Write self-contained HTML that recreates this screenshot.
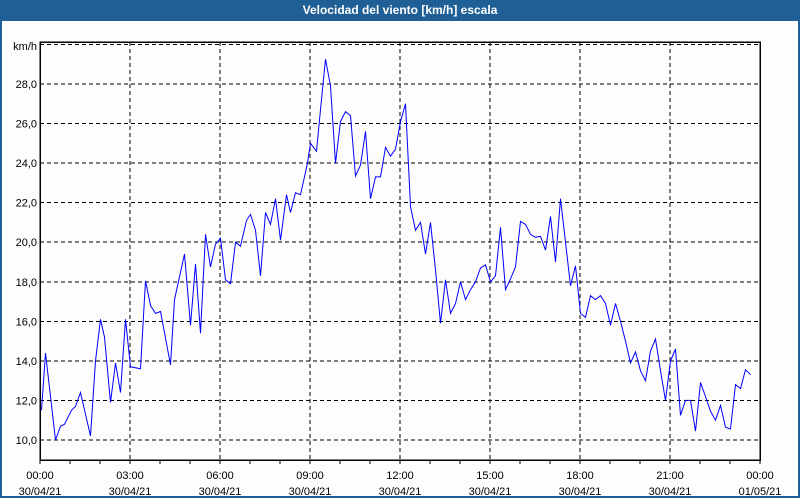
<!DOCTYPE html>
<html><head><meta charset="utf-8"><style>
body{margin:0;width:800px;height:500px;overflow:hidden;background:#fff;font-family:"Liberation Sans",sans-serif}
#frame{position:absolute;left:0;top:0;width:796px;height:496px;border:2px solid #1f5f96;border-top:none;background:#fdfdfd}
#title{position:absolute;left:0;top:0;width:800px;height:21px;background:#1f5f96;color:#fff;font-weight:bold;font-size:12px;text-align:center;line-height:21px}
</style></head><body>
<div id="frame"></div>
<div id="title">Velocidad del viento [km/h] escala</div>
<svg id="chart" width="800" height="500" style="position:absolute;left:0;top:0"></svg>
<script>
const minutes=[3,11,21,31,41,49,63,71,81,101,111,121,129,141,151,161,171,181,201,211,221,231,241,261,269,289,301,311,321,331,341,351,361,371,381,391,401,413,421,431,441,451,461,471,481,493,501,511,521,535,541,553,561,571,581,591,601,611,621,631,641,651,661,671,681,691,701,711,721,731,741,751,761,771,781,791,801,811,821,831,841,851,861,871,881,891,901,911,921,931,941,951,961,971,981,991,1001,1011,1021,1031,1041,1051,1061,1071,1081,1091,1101,1111,1121,1131,1141,1151,1161,1171,1181,1191,1201,1211,1221,1231,1241,1251,1261,1271,1281,1291,1301,1311,1321,1331,1341,1351,1361,1371,1381,1391,1401,1411,1421,1431,1439];
const kmh=[11.5,14.4,12.2,10.0,10.7,10.8,11.5,11.7,12.4,10.2,14.0,16.1,15.2,11.9,13.9,12.4,16.1,13.7,13.6,18.05,16.8,16.4,16.5,13.8,17.1,19.4,15.8,18.9,15.4,20.4,18.75,19.9,20.2,18.1,17.9,20.0,19.8,21.1,21.4,20.6,18.3,21.5,20.9,22.2,20.1,22.4,21.5,22.5,22.4,24.0,25.0,24.6,26.7,29.25,27.9,24.0,26.1,26.6,26.4,23.35,23.9,25.6,22.2,23.3,23.3,24.8,24.35,24.7,26.1,27.0,21.8,20.6,21.0,19.4,21.0,18.6,15.9,18.1,16.4,16.9,18.0,17.1,17.6,18.0,18.7,18.85,18.0,18.3,20.75,17.6,18.15,18.75,21.05,20.9,20.4,20.25,20.3,19.6,21.3,19.0,22.2,20.0,17.8,18.8,16.4,16.2,17.3,17.1,17.3,16.9,15.8,16.9,16.0,15.0,13.9,14.45,13.5,13.0,14.5,15.1,13.5,12.0,14.0,14.6,11.25,12.0,12.0,10.45,12.9,12.2,11.45,11.0,11.75,10.65,10.55,12.8,12.6,13.55,13.3];
const yTicks=[10,12,14,16,18,20,22,24,26,28];
const xTickHours=[0,3,6,9,12,15,18,21,24];
const xTimeLabels=["00:00","03:00","06:00","09:00","12:00","15:00","18:00","21:00","00:00"];
const xDateLabels=["30/04/21","30/04/21","30/04/21","30/04/21","30/04/21","30/04/21","30/04/21","30/04/21","01/05/21"];

const L=40,R=760,T=42,B=460;
const xMin=t=>L+(t/1440)*(R-L);
const xH=h=>L+h*30;
const yV=v=>440-(v-10)*19.78;
const svg=document.getElementById('chart');
const NS='http://www.w3.org/2000/svg';
function mk(tag,attrs){const e=document.createElementNS(NS,tag);for(const k in attrs)e.setAttribute(k,attrs[k]);svg.appendChild(e);return e;}

// horizontal grid
for(const v of yTicks.concat([30])){
  const g=mk('line',{x1:L,x2:R,y1:yV(v),y2:yV(v),stroke:'#000','stroke-dasharray':'4,3','stroke-width':1,'shape-rendering':'crispEdges'});
  
  
}
for(const v of yTicks){
  const t=mk('text',{x:37,y:yV(v)+4,'text-anchor':'end','font-size':11,fill:'#000'});
  t.textContent=v.toFixed(1).replace('.',',');
  
  
}
const unit=mk('text',{x:37,y:50,'text-anchor':'end','font-size':11,fill:'#000'});
unit.textContent='km/h';



// vertical grid
xTickHours.forEach((h,i)=>{
  if(h>0&&h<24){
    const g=mk('line',{x1:xH(h),x2:xH(h),y1:T,y2:B,stroke:'#000','stroke-dasharray':'4,3','stroke-width':1,'shape-rendering':'crispEdges'});
    
    
  }
  const t1=mk('text',{x:xH(h),y:479,'text-anchor':'middle','font-size':11,fill:'#000'});
  t1.textContent=xTimeLabels[i];
  
  
  const t2=mk('text',{x:xH(h),y:495,'text-anchor':'middle','font-size':11,fill:'#000'});
  t2.textContent=xDateLabels[i];
  
  
});
for(let h=0;h<=24;h++){
  const tk=mk('line',{x1:xH(h),x2:xH(h),y1:B,y2:B+4,stroke:'#000','shape-rendering':'crispEdges'});
  
  
}
// axes border
const ax=mk('rect',{x:L,y:T,width:R-L,height:B-T,fill:'none',stroke:'#000','stroke-width':1.5,'shape-rendering':'crispEdges'});



// series
const pts=minutes.map((m,i)=>xMin(m).toFixed(1)+','+yV(kmh[i]).toFixed(1)).join(' ');
const line=mk('polyline',{points:pts,fill:'none',stroke:'#0000ff','stroke-width':1});


</script>
</body></html>
